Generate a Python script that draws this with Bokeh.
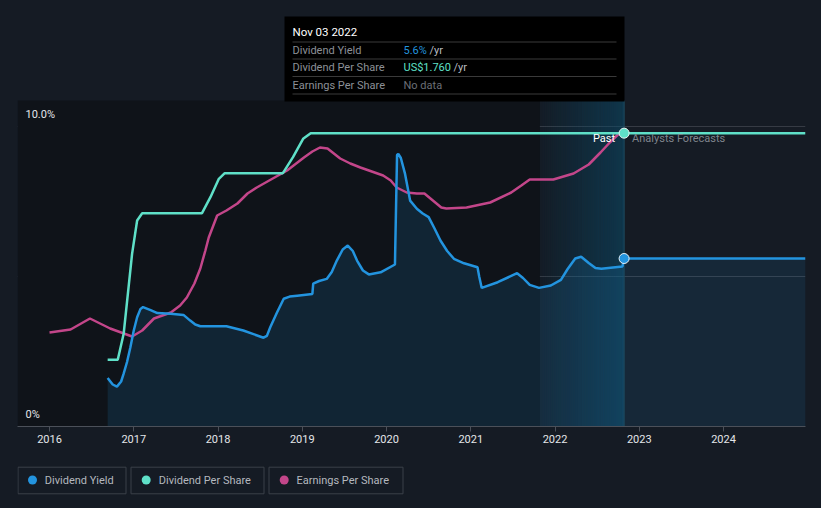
from bokeh.plotting import figure
from bokeh.models import Range1d, FixedTicker
from bokeh.layouts import column
from bokeh.embed import file_html
from bokeh.resources import INLINE
from bokeh.core.properties import value

BG = "#151b24"
FONT = "Roboto"
C_DY = "#2394df"
C_DPS = "#5fe0c8"
C_EPS = "#c3468a"

# ---------------- data ----------------
tick_years = [2016, 2017, 2018, 2019, 2020, 2021, 2022, 2023, 2024]
tick_labels = ["2016", "2017", "2018", "2019", "2020", "2021", "2022", "2023", "2024"]

# Dividend yield (%), past
yield_x = [2016.69, 2016.75, 2016.80, 2016.85, 2016.88, 2016.92, 2016.96, 2017.00, 2017.04,
           2017.08, 2017.11, 2017.20, 2017.28, 2017.44, 2017.59, 2017.67, 2017.73, 2017.79,
           2018.10, 2018.30, 2018.54, 2018.58, 2018.62, 2018.70, 2018.78, 2018.85, 2018.94,
           2019.12, 2019.13, 2019.20, 2019.29, 2019.35, 2019.41, 2019.48, 2019.54, 2019.60,
           2019.65, 2019.72, 2019.79, 2019.93, 2020.10, 2020.125, 2020.14, 2020.17, 2020.22,
           2020.28, 2020.36, 2020.43, 2020.50, 2020.57, 2020.64, 2020.72, 2020.80, 2020.92,
           2021.08, 2021.10, 2021.13, 2021.32, 2021.55, 2021.62, 2021.70, 2021.81, 2021.95,
           2022.07, 2022.15, 2022.24, 2022.31, 2022.40, 2022.48, 2022.55, 2022.80, 2022.82]
yield_y = [1.62, 1.40, 1.33, 1.50, 1.76, 2.15, 2.64, 3.20, 3.64,
           3.92, 3.98, 3.88, 3.78, 3.76, 3.72, 3.53, 3.40, 3.34,
           3.34, 3.20, 2.96, 3.02, 3.31, 3.80, 4.26, 4.33, 4.36,
           4.42, 4.76, 4.85, 4.92, 5.15, 5.53, 5.90, 6.03, 5.85,
           5.53, 5.20, 5.07, 5.14, 5.40, 9.05, 9.09, 8.95, 8.42,
           7.53, 7.26, 7.10, 6.98, 6.60, 6.20, 5.85, 5.59, 5.44,
           5.31, 5.00, 4.62, 4.81, 5.11, 4.95, 4.72, 4.62, 4.70,
           4.89, 5.25, 5.60, 5.66, 5.45, 5.28, 5.26, 5.33, 5.60]
fc_yield_x = [2022.82, 2024.973]
fc_yield_y = [5.6, 5.6]

# Dividend per share (US$)
dps_x = [2016.69, 2016.81, 2016.88, 2016.98, 2017.04, 2017.10, 2017.81, 2017.91, 2018.01,
         2018.08, 2018.77, 2018.89, 2019.01, 2019.10, 2022.82]
dps_y = [0.40, 0.40, 0.556, 1.036, 1.236, 1.28, 1.28, 1.376, 1.486,
         1.52, 1.52, 1.616, 1.726, 1.76, 1.76]
fc_dps_x = [2022.82, 2024.973]
fc_dps_y = [1.76, 1.76]

# Earnings per share (US$)
eps_x = [2016.00, 2016.25, 2016.48, 2016.72, 2016.98, 2017.10, 2017.24, 2017.44, 2017.55,
         2017.63, 2017.72, 2017.79, 2017.85, 2017.89, 2017.99, 2018.10, 2018.23, 2018.35,
         2018.46, 2018.65, 2018.82, 2019.02, 2019.12, 2019.21, 2019.30, 2019.45, 2019.57,
         2019.69, 2019.96, 2020.05, 2020.12, 2020.24, 2020.36, 2020.45, 2020.55, 2020.65,
         2020.71, 2020.95, 2021.23, 2021.48, 2021.60, 2021.70, 2021.98, 2022.22, 2022.40,
         2022.54, 2022.65, 2022.76, 2022.80]
eps_y = [0.94, 0.97, 1.08, 0.98, 0.90, 0.96, 1.08, 1.14, 1.21,
         1.29, 1.43, 1.58, 1.76, 1.89, 2.11, 2.16, 2.23, 2.33,
         2.39, 2.48, 2.56, 2.69, 2.75, 2.79, 2.78, 2.68, 2.63,
         2.59, 2.51, 2.46, 2.39, 2.34, 2.33, 2.33, 2.26, 2.19,
         2.18, 2.19, 2.24, 2.34, 2.41, 2.47, 2.47, 2.53, 2.62,
         2.74, 2.84, 2.93, 2.96]

series_names = ["Dividend Yield", "Dividend Per Share", "Earnings Per Share"]
series_colors = [C_DY, C_DPS, C_EPS]

tip_date = "Nov 03 2022"
tip_rows = ["Dividend Yield", "Dividend Per Share", "Earnings Per Share"]
tip_values = ["5.6%", "US$1.760", "No data"]

past_start = 2021.82
now_x = 2022.82

# ---------------- main figure ----------------
p = figure(width=821, height=455, x_range=Range1d(2015.62, 2024.973), y_range=Range1d(0, 14.2),
           output_backend="svg", toolbar_location=None, y_axis_location=None, title=None,
           min_border_left=17, min_border_right=16, min_border_top=0, min_border_bottom=29,
           background_fill_color=None, border_fill_color=None, outline_line_color=None)
p.styles = {"background-color": BG}
p.extra_y_ranges = {"dps": Range1d(0, 2.556), "eps": Range1d(0, 4.26), "pxy": Range1d(426, 0)}
p.extra_x_ranges = {"pxx": Range1d(17, 805)}
p.xgrid.visible = False
p.ygrid.ticker = FixedTicker(ticks=[5, 10])
p.ygrid.grid_line_color = "#363b44"
p.ygrid.grid_line_width = 1

# past region background
p.quad(left=[2015.62], right=[past_start], top=[100], bottom=[426], y_range_name="pxy",
       fill_color="#0f1319", line_color=None)
# last-12-months band (horizontal gradient via strips)
n = 40
w = (now_x - past_start) / n
lefts = [past_start + i * w for i in range(n)]
rights = [l + w + 0.002 for l in lefts]
alphas = [0.04 + 0.46 * i / (n - 1) for i in range(n)]
p.quad(left=lefts, right=rights, top=[100] * n, bottom=[426] * n, y_range_name="pxy",
       fill_color="#0a5070", fill_alpha=alphas, line_color=None)

# areas
p.varea(x=yield_x, y1=[0] * len(yield_x), y2=yield_y, fill_color=C_DY, fill_alpha=0.14)
p.varea(x=fc_yield_x, y1=[0, 0], y2=fc_yield_y, fill_color=C_DY, fill_alpha=0.11)

# now line
p.segment(x0=[now_x], y0=[100], x1=[now_x], y1=[426], y_range_name="pxy",
          line_color="#1f4c60", line_width=1)

# lines
p.line(eps_x, eps_y, y_range_name="eps", line_color=C_EPS, line_width=2.5)
p.line(dps_x, dps_y, y_range_name="dps", line_color=C_DPS, line_width=2.5)
p.line(fc_dps_x, fc_dps_y, y_range_name="dps", line_color=C_DPS, line_width=2.5)
p.line(yield_x, yield_y, line_color=C_DY, line_width=2.5)
p.line(fc_yield_x, fc_yield_y, line_color=C_DY, line_width=2.5)

p.scatter([now_x], [fc_dps_y[0]], y_range_name="dps", size=10, fill_color=C_DPS,
          line_color="#e8f6f3", line_width=1)
p.scatter([now_x], [fc_yield_y[0]], size=10, fill_color=C_DY,
          line_color="#e8f2fa", line_width=1)

# y labels
p.text(x=[25, 25], y=[10, 0], text=["10.0%", "0%"], x_range_name="pxx", y_offset=-12,
       text_baseline="middle", text_color="#e4e6e9", text_font=value(FONT),
       text_font_size="11px")

# Past / Forecast labels
p.text(x=[now_x], y=[138], text=["Past"], y_range_name="pxy", x_offset=-9,
       text_align="right", text_baseline="middle", text_color="#ffffff",
       text_font=value(FONT), text_font_size="11px")
p.text(x=[now_x], y=[138], text=["Analysts Forecasts"], y_range_name="pxy", x_offset=8,
       text_align="left", text_baseline="middle", text_color="#7f848c",
       text_font=value(FONT), text_font_size="11px")

# tooltip
p.quad(left=[284], right=[624], top=[16], bottom=[101], x_range_name="pxx",
       y_range_name="pxy", fill_color="#000000", line_color=None)
p.segment(x0=[292] * 4, x1=[616] * 4, y0=[41.5, 58.5, 76, 93.5], y1=[41.5, 58.5, 76, 93.5],
          x_range_name="pxx", y_range_name="pxy", line_color="#3a3a3a", line_width=1)
p.text(x=[292], y=[31], text=[tip_date], x_range_name="pxx", y_range_name="pxy",
       text_baseline="middle", text_color="#ffffff", text_font=value(FONT),
       text_font_size="11.5px")
row_y = [49.5, 67, 84.5]
p.text(x=[292] * 3, y=row_y, text=tip_rows, x_range_name="pxx", y_range_name="pxy",
       text_baseline="middle", text_color="#8c9097", text_font=value(FONT),
       text_font_size="11px")
p.text(x=[403] * 3, y=row_y, text=tip_values, x_range_name="pxx", y_range_name="pxy",
       text_baseline="middle", text_color=[C_DY, C_DPS, "#6b6f76"], text_font=value(FONT),
       text_font_size="11px")
p.text(x=[429, 453], y=row_y[:2], text=["/yr", "/yr"], x_range_name="pxx", y_range_name="pxy",
       text_baseline="middle", text_color="#b9bcc1", text_font=value(FONT),
       text_font_size="11px")

# x axis
ax = p.xaxis[0]
ax.ticker = FixedTicker(ticks=tick_years)
ax.major_label_overrides = {y: l for y, l in zip(tick_years, tick_labels)}
ax.axis_line_color = "#4b5059"
ax.major_tick_line_color = "#4b5059"
ax.major_tick_out = 5
ax.major_tick_in = 0
ax.minor_tick_out = 0
ax.minor_tick_in = 0
ax.major_label_standoff = 3
ax.major_label_text_color = "#e4e6e9"
ax.major_label_text_font = FONT
ax.major_label_text_font_size = "11px"

# ---------------- legend strip (second figure, page-pixel ranges) ----------------
lg = figure(width=821, height=53, x_range=Range1d(17, 805), y_range=Range1d(508, 455),
            output_backend="svg", toolbar_location=None, x_axis_location=None,
            y_axis_location=None, title=None,
            min_border_left=17, min_border_right=16, min_border_top=0, min_border_bottom=0,
            background_fill_color=None, border_fill_color=None, outline_line_color=None)
lg.styles = {"background-color": BG}
lg.grid.visible = False
box_left = [17.5, 130.5, 268.5]
box_right = [125.5, 263.5, 402.5]
dot_x = [32, 145.7, 283.7]
text_x = [44.3, 158.3, 296]
box_top, box_bot, mid_y = 466.7, 493.3, 479.5
lg.quad(left=box_left, right=box_right, top=[box_top] * 3, bottom=[box_bot] * 3,
        fill_color=None, line_color="#3b4049", line_width=1)
lg.scatter(x=dot_x, y=[mid_y] * 3, size=9, fill_color=series_colors, line_color=None)
lg.text(x=text_x, y=[mid_y] * 3, text=series_names, text_baseline="middle",
        text_color="#b4b8bf", text_font=value(FONT), text_font_size="11px")

layout = column(p, lg, spacing=0)
layout.styles = {"background-color": BG}
open("out.html", "w").write(file_html(layout, INLINE))
